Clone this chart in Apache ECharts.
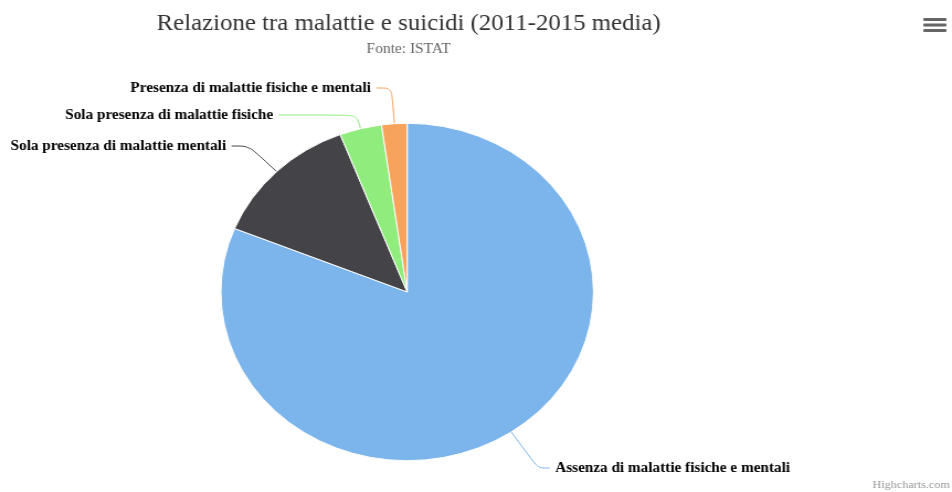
<!DOCTYPE html>
<html>
<head>
<meta charset="utf-8">
<script src="https://cdn.jsdelivr.net/npm/echarts@6/dist/echarts.min.js"></script>
<style>
html,body{margin:0;padding:0;background:#fff;overflow:hidden;width:952px;height:492px;}
#chart{width:862px;height:492px;transform:scaleX(1.1044);transform-origin:0 0;}
</style>
</head>
<body>
<div id="chart"></div>
<script>
const titleText = 'Relazione tra malattie e suicidi (2011-2015 media)';
const subtitleText = 'Fonte: ISTAT';
const categories = [
  'Assenza di malattie fisiche e mentali',
  'Sola presenza di malattie mentali',
  'Sola presenza di malattie fisiche',
  'Presenza di malattie fisiche e mentali'
];
const values = [81.1, 13.0, 3.65, 2.2];
const colors = ['#7cb5ec', '#434348', '#90ed7d', '#f7a35c'];
const lineLen = [43.5, 35.9, 14.1, 35.8];
const lineLen2 = [10.5, 15.6, 70.6, 13.7];

const chart = echarts.init(document.getElementById('chart'), null, {renderer: 'canvas'});
const serif = '"Liberation Serif", "DejaVu Serif", serif';
chart.setOption({
  animation: false,
  backgroundColor: '#ffffff',
  title: {
    text: titleText,
    subtext: subtitleText,
    left: 365,
    top: 8,
    textAlign: 'center',
    itemGap: 6,
    textStyle: {fontFamily: serif, fontSize: 22.5, fontWeight: 'normal', color: '#333333'},
    subtextStyle: {fontFamily: serif, fontSize: 14, color: '#666666'}
  },
  graphic: [
    {type: 'rect', shape: {x: 836, y: 18, width: 21, height: 3, r: 1}, style: {fill: '#666666'}},
    {type: 'rect', shape: {x: 836, y: 23.5, width: 21, height: 3, r: 1}, style: {fill: '#666666'}},
    {type: 'rect', shape: {x: 836, y: 29, width: 21, height: 3, r: 1}, style: {fill: '#666666'}},
    {type: 'text', x: 860, y: 485, style: {text: 'Highcharts.com', fill: '#999999', font: '11px ' + serif, textAlign: 'right', textVerticalAlign: 'middle'}}
  ],
  series: [{
    type: 'pie',
    center: [368.7, 292],
    radius: [0, 168.7],
    startAngle: 90,
    clockwise: true,
    avoidLabelOverlap: false,
    itemStyle: {borderColor: '#ffffff', borderWidth: 1},
    label: {
      show: true,
      position: 'outside',
      fontFamily: serif,
      fontWeight: 'bold',
      fontSize: 13.8,
      color: '#000000',
      distanceToLabelLine: 5,
      formatter: '{b}'
    },
    labelLine: {show: true, smooth: 0.3, lineStyle: {width: 1}},
    emphasis: {disabled: true},
    data: categories.map((name, i) => ({
      name: name,
      value: values[i],
      itemStyle: {color: colors[i]},
      labelLine: {length: lineLen[i], length2: lineLen2[i], lineStyle: {color: colors[i]}}
    }))
  }]
});
</script>
</body>
</html>
